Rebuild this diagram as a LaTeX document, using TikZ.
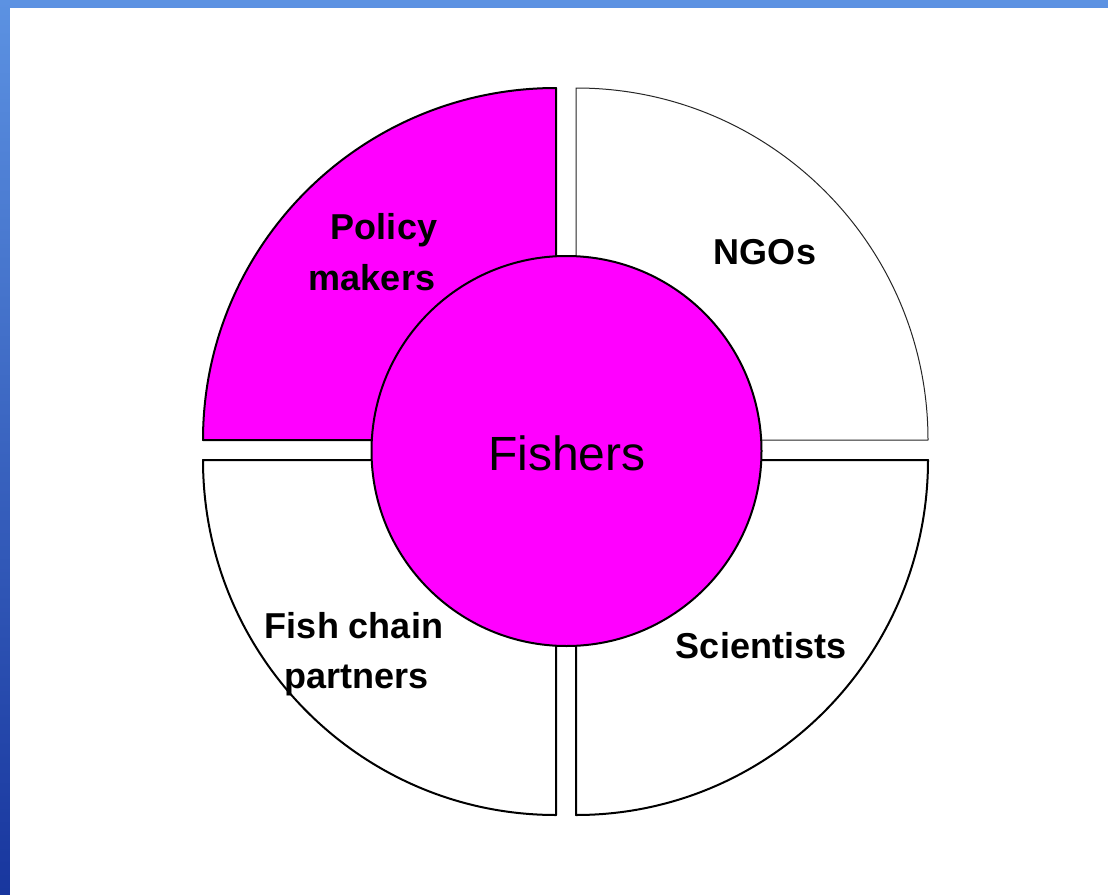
\documentclass[tikz,border=0pt]{standalone}
\usepackage{fontspec}
\setmainfont{Liberation Sans}
\definecolor{magentafill}{RGB}{255,0,255}
\definecolor{bgtop}{RGB}{92,146,226}
\definecolor{bgbot}{RGB}{24,54,158}
\tikzset{
  quarter/.style={draw=black, line width=2pt, line join=round},
  thinquarter/.style={draw=black!85, line width=1pt, line join=round},
  lbl/.style={font=\fontsize{36}{50}\selectfont\bfseries, align=center, inner sep=0pt, anchor=base},
}
\begin{document}
\begin{tikzpicture}[x=1pt,y=-1pt]
\useasboundingbox (0,0) rectangle (1108,894);
% background
\shade[top color=bgtop, bottom color=bgbot] (0,0) rectangle (1108,894);
\fill[white] (10,8) rectangle (1112,898);
% quarters
\path[quarter, fill=magentafill] (556,440) -- (203,440) arc[start angle=180, end angle=90, x radius=353, y radius=-352] -- cycle;
\path[thinquarter, fill=white] (576,440) -- (576,88) arc[start angle=90, end angle=0, x radius=352, y radius=-352] -- cycle;
\path[quarter, fill=white] (556,460) -- (556,815) arc[start angle=270, end angle=180, x radius=353, y radius=-355] -- cycle;
\path[quarter, fill=white] (576,460) -- (928,460) arc[start angle=0, end angle=-90, x radius=352, y radius=-355] -- cycle;
% centre circle
\node[circle, draw=black, line width=2pt, fill=magentafill, minimum size=390pt, inner sep=0pt] (fishers) at (566.5,451) {};
\node[inner sep=0pt, anchor=base] (fisherslbl) at (567,470) {\fontsize{48}{56}\selectfont Fishers};
% labels
\node[lbl] (policy) at (384,239) {Policy};
\node[lbl] (makers) at (372,290) {makers};
\node[lbl] (ngos) at (765,264) {NGOs};
\node[lbl] (fishchain) at (354,638) {Fish chain};
\node[lbl] (partners) at (357,688) {partners};
\node[lbl] (scientists) at (761,658) {Scientists};
\end{tikzpicture}
\end{document}
